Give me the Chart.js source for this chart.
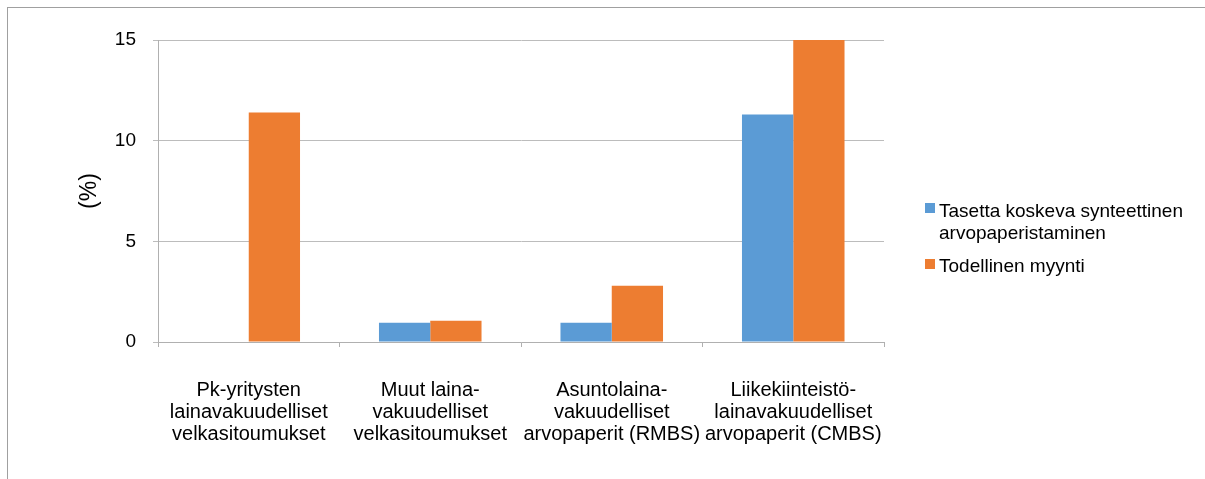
<!DOCTYPE html>
<html>
<head>
<meta charset="utf-8">
<script src="https://cdn.jsdelivr.net/npm/chart.js@4.4.0/dist/chart.umd.min.js"></script>
<style>
  html, body { margin: 0; padding: 0; background: #fff; }
  body { width: 1205px; height: 479px; position: relative; overflow: hidden; font-family: "Liberation Sans", Arial, sans-serif; }
  #frame { position: absolute; left: 7px; top: 7px; right: -2px; bottom: -2px; border-top: 1px solid #a0a0a0; border-left: 1px solid #a0a0a0; }
  #wrap { position: absolute; left: 0; top: 0; width: 1205px; height: 479px; }
  .leg { position: absolute; left: 939px; font-size: 19px; line-height: 22px; color: #000; white-space: nowrap; }
  .sw { position: absolute; left: 925px; width: 10px; height: 10px; }
</style>
</head>
<body>
<div id="frame"></div>
<div id="wrap"><canvas id="c" width="1205" height="479"></canvas></div>
<div class="sw" style="top:203px;background:#5B9BD5"></div>
<div class="leg" id="leg0" style="top:200px"></div>
<div class="sw" style="top:259px;background:#ED7D31"></div>
<div class="leg" id="leg1" style="top:255px"></div>
<script>
const categories = [
  ["Pk-yritysten", "lainavakuudelliset", "velkasitoumukset"],
  ["Muut laina-", "vakuudelliset", "velkasitoumukset"],
  ["Asuntolaina-", "vakuudelliset", "arvopaperit (RMBS)"],
  ["Liikekiinteistö-", "lainavakuudelliset", "arvopaperit (CMBS)"]
];
const seriesNames = ["Tasetta koskeva synteettinen arvopaperistaminen", "Todellinen myynti"];
const legendLines = [["Tasetta koskeva synteettinen", "arvopaperistaminen"], ["Todellinen myynti"]];
const synteettinen = [0, 0.95, 0.95, 11.3];
const todellinen = [11.4, 1.05, 2.8, 15];
const yTicks = [0, 5, 10, 15];
const yTitle = "(%)";

document.getElementById('leg0').innerHTML = legendLines[0].join('<br>');
document.getElementById('leg1').innerHTML = legendLines[1].join('<br>');

const FONT = "'Liberation Sans', Arial, sans-serif";
new Chart(document.getElementById('c'), {
  type: 'bar',
  data: {
    labels: categories,
    datasets: [
      { label: seriesNames[0], data: synteettinen, backgroundColor: '#5B9BD5', borderWidth: 0 },
      { label: seriesNames[1], data: todellinen, backgroundColor: '#ED7D31', borderWidth: 0 }
    ]
  },
  options: {
    responsive: false,
    animation: false,
    events: [],
    layout: { padding: { left: 72, right: 321, top: 40, bottom: 0 } },
    plugins: { legend: { display: false }, tooltip: { enabled: false } },
    datasets: { bar: { categoryPercentage: 0.565, barPercentage: 1 } },
    scales: {
      x: {
        offset: true,
        grid: { drawOnChartArea: false, drawTicks: true, tickLength: 5, color: '#b0b0b0', offset: true },
        border: { color: '#b0b0b0', width: 1 },
        ticks: { color: '#000', font: { family: FONT, size: 20, lineHeight: 1.1 }, padding: 32, maxRotation: 0, autoSkip: false },
        afterFit: (s) => { s.height = 137; }
      },
      y: {
        min: 0, max: 15,
        afterBuildTicks: (s) => { s.ticks = yTicks.map(v => ({ value: v })); },
        grid: { color: '#bcbcbc', tickLength: 5, lineWidth: 1 },
        border: { color: '#b0b0b0', width: 1 },
        ticks: { color: '#000', font: { family: FONT, size: 19 }, padding: 17 },
        title: { display: true, text: yTitle, color: '#000', font: { family: FONT, size: 23 }, padding: { top: 4, bottom: 4 } },
        afterFit: (s) => { s.width = 86; }
      }
    }
  }
});
</script>
</body>
</html>
